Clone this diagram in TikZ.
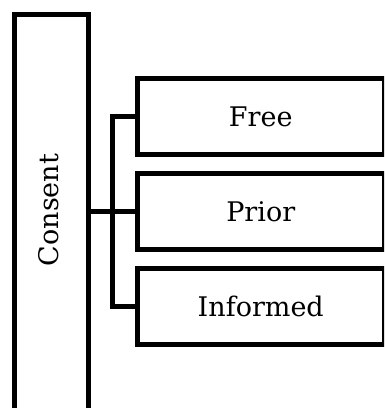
\documentclass[tikz,border=0pt]{standalone}
\usepackage{fontspec}
\setmainfont{DejaVu Serif}
\begin{document}
\begin{tikzpicture}[x=1pt,y=-1pt,
  box/.style={draw=black, line width=4.8pt, rectangle, inner sep=0pt, fill=white},
  itembox/.style={box, minimum width=246.5pt, minimum height=75.5pt},
  lbl/.style={font=\fontsize{27}{32}\selectfont, inner sep=0pt},
  conn/.style={draw=black, line width=4.8pt}]
\clip (0,0) rectangle (384,408);
\fill[white] (0,0) rectangle (384,408);
\node[box, minimum width=74.6pt, minimum height=405pt, anchor=north west] (consent) at (11.7,12.3) {};
\node[lbl, rotate=90] (consentlabel) at (49,210) {Consent};
\node[itembox] (free) at (260.75,116.5) {};
\node[lbl] (freelabel) at (free.center) {Free};
\node[itembox] (prior) at (260.75,211.5) {};
\node[lbl] (priorlabel) at (prior.center) {Prior};
\node[itembox] (informed) at (260.75,306.5) {};
\node[lbl] (informedlabel) at (informed.center) {Informed};
\coordinate (sp) at (112.5,211.5);
\draw[conn] (consent.east |- prior.west) -- (prior.west);
\draw[conn] (free.west) -- (sp |- free.west) -- (sp |- informed.west) -- (informed.west);
\end{tikzpicture}
\end{document}
